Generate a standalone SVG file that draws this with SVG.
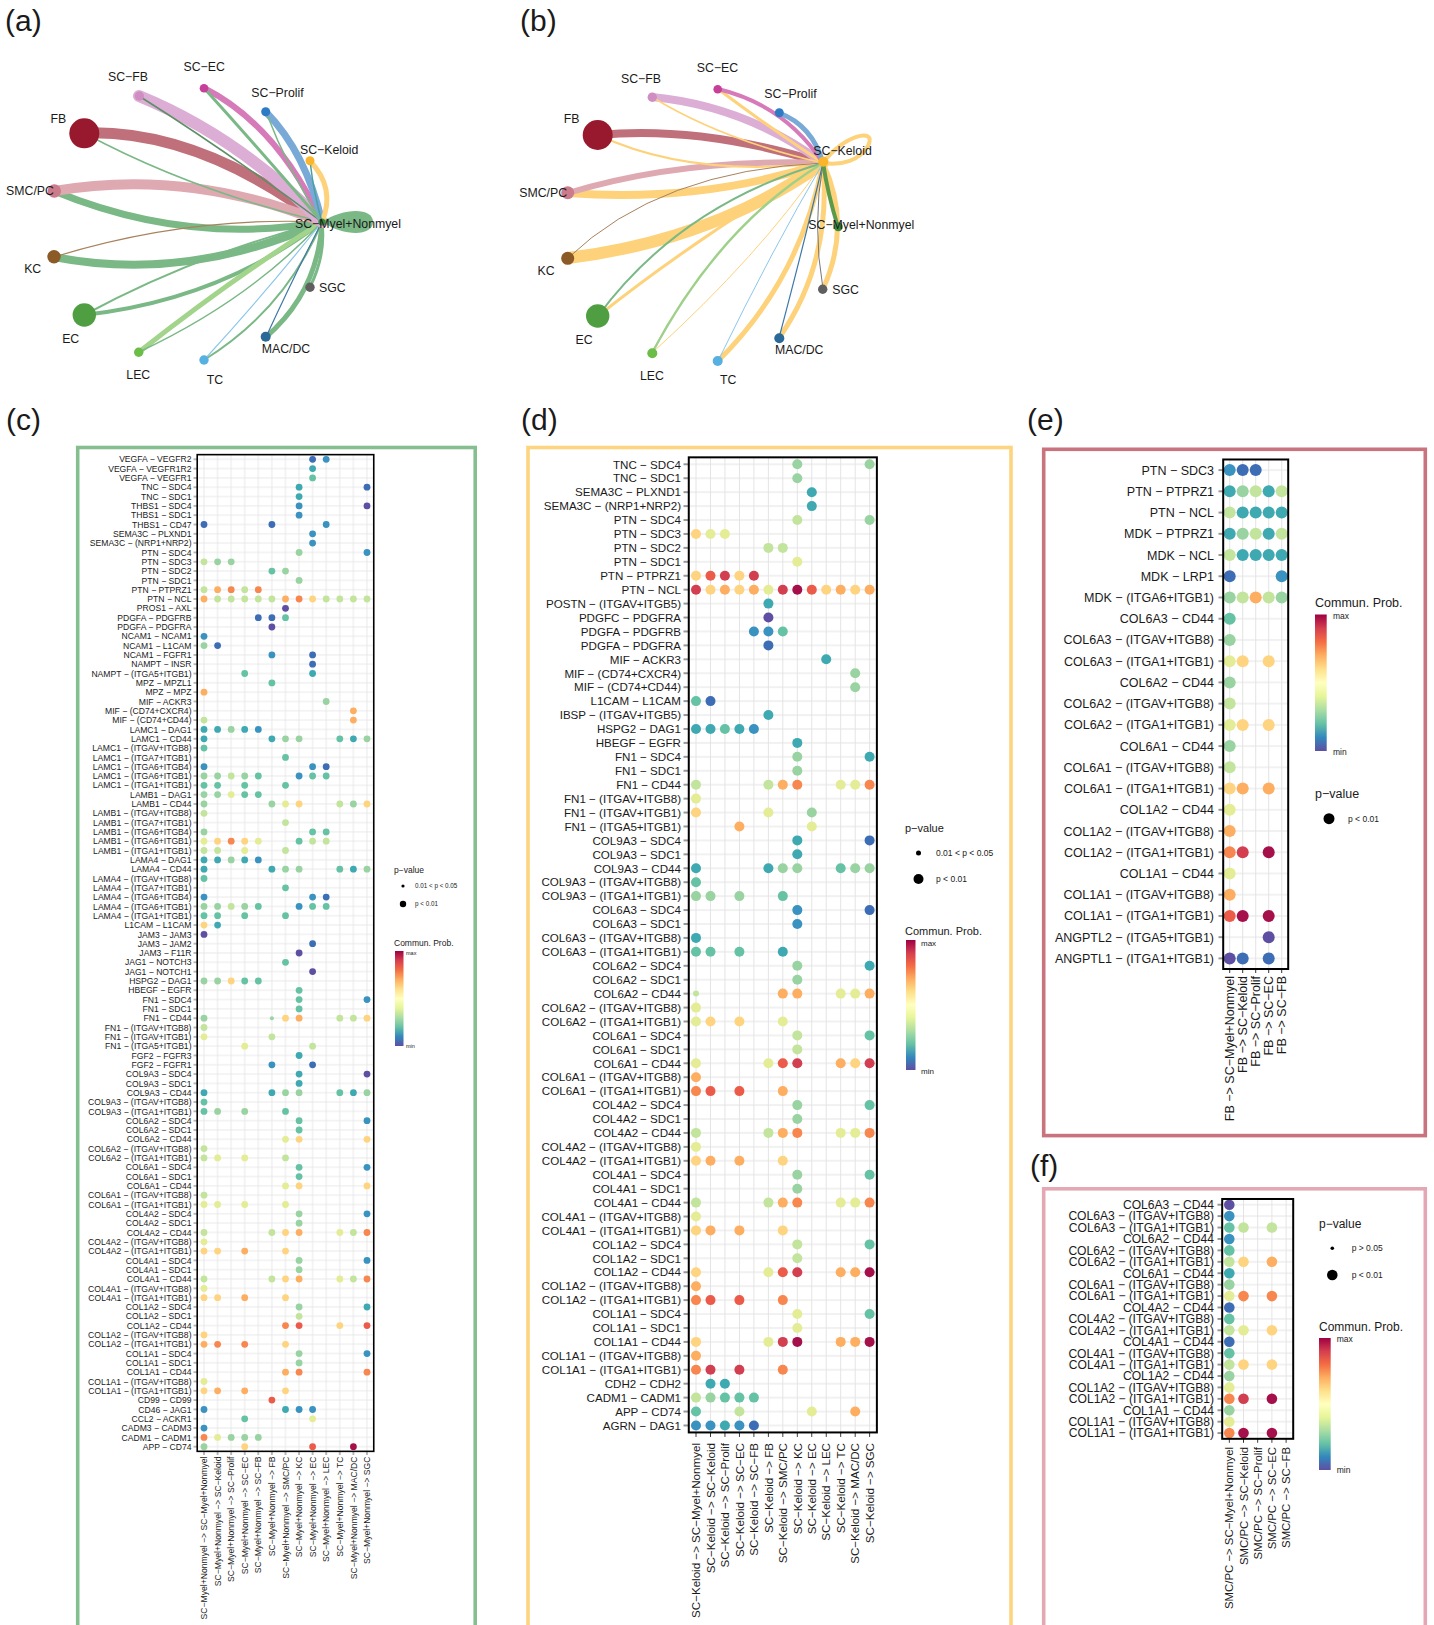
<svg xmlns="http://www.w3.org/2000/svg" width="1434" height="1625" viewBox="0 0 1434 1625">
<style>
text{font-family:"Liberation Sans",Arial,Helvetica,sans-serif;fill:#1a1a1a}
.pl{font-size:30px}
.nl{font-size:12.3px}
.lc{font-size:8.6px;text-anchor:end}
.ld{font-size:11.6px;text-anchor:end}
.le{font-size:12.5px;text-anchor:end}
.lf{font-size:12.1px;text-anchor:end}
.lfx{font-size:11.4px;text-anchor:end}
.dc circle{r:3.4px}.dd circle{r:5px}.de circle{r:6px}.df circle{r:5.3px}
.dc circle.s{r:2px}.dd circle.s{r:3px}
.P{fill:#5e4fa2}.B{fill:#3d6db5}.b{fill:#3a92c0}.T{fill:#3fa9b2}.G{fill:#66c2a5}.g{fill:#99d3a1}.L{fill:#c3e49d}.Y{fill:#e5ec96}.y{fill:#fed480}.O{fill:#fdae61}.o{fill:#f7864f}.R{fill:#ec5b49}.r{fill:#d13f50}.D{fill:#a6104a}
.e{fill:none;stroke-linecap:round}
.box{fill:none;stroke:#000}
.leg{font-size:8.5px}
</style>
<defs>
<linearGradient id="spec" x1="0" y1="0" x2="0" y2="1">
<stop offset="0" stop-color="#9e0142"/><stop offset=".1" stop-color="#d53e4f"/><stop offset=".2" stop-color="#f46d43"/><stop offset=".3" stop-color="#fdae61"/><stop offset=".4" stop-color="#fee08b"/><stop offset=".5" stop-color="#ffffbf"/><stop offset=".6" stop-color="#e6f598"/><stop offset=".7" stop-color="#abdda4"/><stop offset=".8" stop-color="#66c2a5"/><stop offset=".9" stop-color="#3288bd"/><stop offset="1" stop-color="#5e4fa2"/>
</linearGradient>
<pattern id="gc" patternUnits="userSpaceOnUse" x="197.21" y="454.64" width="13.58" height="9.315"><path d="M6.79 0V9.315M0 4.6575H13.58" stroke="#e3e3e3" stroke-width=".8"/></pattern>
<pattern id="tcl" patternUnits="userSpaceOnUse" x="193.5" y="454.64" width="4" height="9.315"><path d="M0 4.6575H4" stroke="#333" stroke-width=".7"/></pattern>
<pattern id="tcb" patternUnits="userSpaceOnUse" x="197.21" y="1451.3" width="13.58" height="4"><path d="M6.79 0V4" stroke="#333" stroke-width=".7"/></pattern>
<pattern id="gd" patternUnits="userSpaceOnUse" x="688.77" y="457.34" width="14.47" height="13.93"><path d="M7.235 0V13.93M0 6.965H14.47" stroke="#e3e3e3" stroke-width="1"/></pattern>
<pattern id="tdl" patternUnits="userSpaceOnUse" x="683.5" y="457.34" width="6" height="13.93"><path d="M0 6.965H6" stroke="#333" stroke-width="1"/></pattern>
<pattern id="tdb" patternUnits="userSpaceOnUse" x="688.77" y="1432.44" width="14.47" height="5"><path d="M7.235 0V5" stroke="#333" stroke-width="1"/></pattern>
<pattern id="ge" patternUnits="userSpaceOnUse" x="1223.2" y="459.49" width="13" height="21.23"><path d="M6.5 0V21.23M0 10.615H13" stroke="#e3e3e3" stroke-width="1"/></pattern>
<pattern id="tel" patternUnits="userSpaceOnUse" x="1218.5" y="459.49" width="5" height="21.23"><path d="M0 10.615H5" stroke="#333" stroke-width="1"/></pattern>
<pattern id="teb" patternUnits="userSpaceOnUse" x="1223.2" y="969" width="13" height="5"><path d="M6.5 0V5" stroke="#333" stroke-width="1"/></pattern>
<pattern id="gf" patternUnits="userSpaceOnUse" x="1222.2" y="1198.99" width="14.2" height="11.42"><path d="M7.1 0V11.42M0 5.71H14.2" stroke="#e3e3e3" stroke-width="1"/></pattern>
<pattern id="tfl" patternUnits="userSpaceOnUse" x="1217.5" y="1198.99" width="5" height="11.42"><path d="M0 5.71H5" stroke="#333" stroke-width="1"/></pattern>
<pattern id="tfb" patternUnits="userSpaceOnUse" x="1222.2" y="1438.8" width="14.2" height="5"><path d="M7.1 0V5" stroke="#333" stroke-width="1"/></pattern>
</defs>
<rect width="1434" height="1625" fill="#fff"/>

<g id="panel-labels" class="pl">
<text x="5" y="31">(a)</text><text x="520" y="31">(b)</text><text x="6" y="430">(c)</text><text x="521" y="430">(d)</text><text x="1027" y="430">(e)</text><text x="1030" y="1176">(f)</text>
</g>

<!-- Panel (a) -->
<g id="panel-a">
<g id="a-connectors" class="e">
<path d="M54,191 Q187,246 322,222" stroke="#7ab886" stroke-width="7"/>
<path d="M54,257 Q187,283 322,222" stroke="#7ab886" stroke-width="8"/>
<path d="M84,315 Q220,300 322,222" stroke="#7ab886" stroke-width="4"/>
<path d="M84,315 Q195,255 322,222" stroke="#7ab886" stroke-width="2"/>
<path d="M139,352 Q230,280 322,222" stroke="#a3d48b" stroke-width="5"/>
<path d="M139,352 Q250,300 322,222" stroke="#7ab886" stroke-width="1.5"/>
<path d="M204,360 Q285,310 322,222" stroke="#7ab886" stroke-width="2"/>
<path d="M204,360 Q268,290 322,222" stroke="#8cc6ea" stroke-width="1.2"/>
<path d="M266,337 Q318,292 322,222" stroke="#7ab886" stroke-width="5"/>
<path d="M266,337 Q296,272 322,222" stroke="#3f78a8" stroke-width="1.2"/>
<path d="M310,287 Q326,255 322,222" stroke="#7ab886" stroke-width="3"/>
<path d="M54,257 Q187,216 322,222" stroke="#a9825c" stroke-width="1.2"/>
<path d="M84,133 Q198,129 322,222" stroke="#c0707a" stroke-width="11"/>
<path d="M54,191 Q187,168 322,222" stroke="#dfa9b2" stroke-width="10"/>
<path d="M84,133 Q190,190 322,222" stroke="#7ab886" stroke-width="1.5"/>
<path d="M139,96 Q239,137 322,222" stroke="#dcaed6" stroke-width="12"/>
<path d="M139,96 Q225,150 322,222" stroke="#5c8f66" stroke-width="1.5"/>
<path d="M204,88 Q277,125 322,222" stroke="#d67ab9" stroke-width="6"/>
<path d="M204,88 Q260,150 322,222" stroke="#7ab886" stroke-width="3"/>
<path d="M266,112 Q306,153 322,222" stroke="#79a9d6" stroke-width="7"/>
<path d="M266,112 Q288,170 322,222" stroke="#7ab886" stroke-width="1.5"/>
<path d="M310,161 Q336,188 322,222" stroke="#fdd27a" stroke-width="5"/>
<path d="M310,161 Q314,195 322,222" stroke="#4aa0a0" stroke-width="1.5"/>
<path d="M322,222 C345,207 373,208 373,222 C373,236 345,237 322,222Z" fill="#7ab886" stroke="none"/>
</g>
<g id="a-SC-FB"><circle cx="139.3" cy="96" r="4.7" fill="#cf8dc2"/><text class="nl" x="128" y="81.1" text-anchor="middle">SC−FB</text></g>
<g id="a-SC-EC"><circle cx="204" cy="88.3" r="4.3" fill="#c73f98"/><text class="nl" x="204.2" y="71.1" text-anchor="middle">SC−EC</text></g>
<g id="a-SC-Prolif"><circle cx="265.7" cy="111.7" r="4.5" fill="#2c7bc4"/><text class="nl" x="277.5" y="97.1" text-anchor="middle">SC−Prolif</text></g>
<g id="a-FB"><circle cx="84.3" cy="133.3" r="15" fill="#98192d"/><text class="nl" x="58.3" y="123.1" text-anchor="middle">FB</text></g>
<g id="a-SC-Keloid"><circle cx="310" cy="160.7" r="4.5" fill="#fbb52c"/><text class="nl" x="329.2" y="154.1" text-anchor="middle">SC−Keloid</text></g>
<g id="a-SMC-PC"><circle cx="54.3" cy="191" r="6.7" fill="#cc7b8b"/><text class="nl" x="30" y="195.4" text-anchor="middle">SMC/PC</text></g>
<g id="a-SC-Myel"><circle cx="322" cy="222" r="3.5" fill="#3b8a3b"/><text class="nl" x="295" y="227.7">SC−Myel+Nonmyel</text></g>
<g id="a-KC"><circle cx="54" cy="256.7" r="6.7" fill="#8c5a26"/><text class="nl" x="32.7" y="272.7" text-anchor="middle">KC</text></g>
<g id="a-SGC"><circle cx="310" cy="287.3" r="4.7" fill="#5f5f5f"/><text class="nl" x="319" y="291.7">SGC</text></g>
<g id="a-EC"><circle cx="84.3" cy="315" r="11.7" fill="#4f9f42"/><text class="nl" x="70.7" y="343.4" text-anchor="middle">EC</text></g>
<g id="a-MAC-DC"><circle cx="265.7" cy="336.7" r="5" fill="#2a6898"/><text class="nl" x="261.7" y="353.4">MAC/DC</text></g>
<g id="a-LEC"><circle cx="138.7" cy="352.3" r="4.7" fill="#6cbd48"/><text class="nl" x="138.3" y="378.5" text-anchor="middle">LEC</text></g>
<g id="a-TC"><circle cx="204" cy="360" r="4.7" fill="#56b0e2"/><text class="nl" x="215" y="383.5" text-anchor="middle">TC</text></g>
</g>

<!-- Panel (b) -->
<g id="panel-b">
<g id="b-connectors" class="e">
<path d="M568,258 Q714,240 823,163" stroke="#fdd27a" stroke-width="12"/>
<path d="M568,193 Q704,203 823,163" stroke="#fdd27a" stroke-width="8"/>
<path d="M598,135 Q700,125 823,163" stroke="#c0707a" stroke-width="8"/>
<path d="M568,193 Q684,158 823,163" stroke="#dfa9b2" stroke-width="6"/>
<path d="M598,135 Q690,178 823,163" stroke="#fdd27a" stroke-width="2"/>
<path d="M652,97 Q746,106 823,163" stroke="#dcaed6" stroke-width="8"/>
<path d="M652,97 Q722,140 823,163" stroke="#fdd27a" stroke-width="1.5"/>
<path d="M718,89 Q770,128 823,163" stroke="#fdd27a" stroke-width="3"/>
<path d="M718,89 Q785,105 823,163" stroke="#d67ab9" stroke-width="4"/>
<path d="M779,113 Q812,125 823,163" stroke="#79a9d6" stroke-width="5"/>
<path d="M568,258 Q660,170 823,163" stroke="#a9825c" stroke-width="1"/>
<path d="M598,316 Q700,235 823,163" stroke="#fdd27a" stroke-width="3"/>
<path d="M598,316 Q680,205 823,163" stroke="#7ab886" stroke-width="2"/>
<path d="M652,353 Q760,255 823,163" stroke="#fdd27a" stroke-width="1"/>
<path d="M652,353 Q720,225 823,163" stroke="#9fd08a" stroke-width="2.5"/>
<path d="M718,361 Q800,280 823,163" stroke="#fdd27a" stroke-width="5"/>
<path d="M718,361 Q772,250 823,163" stroke="#8cc6ea" stroke-width="1"/>
<path d="M779,338 Q832,262 823,163" stroke="#fdd27a" stroke-width="5"/>
<path d="M779,338 Q805,240 823,163" stroke="#3f78a8" stroke-width="1.2"/>
<path d="M823,289 Q852,225 823,163" stroke="#fdd27a" stroke-width="5"/>
<path d="M823,289 Q812,225 823,163" stroke="#777" stroke-width="1"/>
<path d="M838,227 Q832,190 823,163" stroke="#fdd27a" stroke-width="4"/>
<path d="M838,227 Q828,195 823,163" stroke="#5b9a4a" stroke-width="4"/>
<path d="M823,163 C842,136 878,126 868,146 C860,160 842,166 823,163" stroke="#fdd27a" stroke-width="4"/>
</g>
<g id="b-SC-FB"><circle cx="652.3" cy="97.3" r="4.7" fill="#cf8dc2"/><text class="nl" x="641" y="83.4" text-anchor="middle">SC−FB</text></g>
<g id="b-SC-EC"><circle cx="717.7" cy="89.3" r="4.3" fill="#c73f98"/><text class="nl" x="717.5" y="72.1" text-anchor="middle">SC−EC</text></g>
<g id="b-SC-Prolif"><circle cx="779.3" cy="112.7" r="4.5" fill="#2c7bc4"/><text class="nl" x="764.3" y="98.1">SC−Prolif</text></g>
<g id="b-FB"><circle cx="597.7" cy="135" r="15" fill="#98192d"/><text class="nl" x="571.7" y="123.1" text-anchor="middle">FB</text></g>
<g id="b-SC-Keloid"><circle cx="823.3" cy="161.7" r="5" fill="#fbb52c"/><text class="nl" x="813.3" y="155.1">SC−Keloid</text></g>
<g id="b-SMC-PC"><circle cx="567.7" cy="192.7" r="6.5" fill="#cc7b8b"/><text class="nl" x="519.3" y="197.1">SMC/PC</text></g>
<g id="b-SC-Myel"><circle cx="838.3" cy="226.7" r="4.5" fill="#3b8a3b"/><text class="nl" x="808.3" y="229.4">SC−Myel+Nonmyel</text></g>
<g id="b-KC"><circle cx="567.7" cy="258.3" r="6.5" fill="#8c5a26"/><text class="nl" x="546" y="275.1" text-anchor="middle">KC</text></g>
<g id="b-SGC"><circle cx="822.7" cy="289.3" r="4.7" fill="#5f5f5f"/><text class="nl" x="832.3" y="293.7">SGC</text></g>
<g id="b-EC"><circle cx="597.7" cy="316" r="11.7" fill="#4f9f42"/><text class="nl" x="584" y="344.4" text-anchor="middle">EC</text></g>
<g id="b-MAC-DC"><circle cx="779.3" cy="338.3" r="5" fill="#2a6898"/><text class="nl" x="775" y="353.7">MAC/DC</text></g>
<g id="b-LEC"><circle cx="652.3" cy="353.3" r="5" fill="#6cbd48"/><text class="nl" x="652" y="379.5" text-anchor="middle">LEC</text></g>
<g id="b-TC"><circle cx="717.7" cy="361" r="5" fill="#56b0e2"/><text class="nl" x="728.3" y="384" text-anchor="middle">TC</text></g>
</g>

<!-- Panel borders -->
<rect x="77.7" y="447.5" width="397.5" height="1200" fill="none" stroke="#86bf8f" stroke-width="3.6"/>
<rect x="528" y="447.5" width="483" height="1200" fill="none" stroke="#fdd47f" stroke-width="3.6"/>
<rect x="1043.7" y="449.3" width="381.6" height="686.3" fill="none" stroke="#c8737d" stroke-width="3.6"/>
<rect x="1043.7" y="1188.8" width="381.6" height="460" fill="none" stroke="#e3a8b4" stroke-width="3.6"/>

<!-- Panel (c) -->
<g id="panel-c">
<rect x="197.21" y="454.64" width="176.54" height="996.7" fill="url(#gc)"/>
<rect x="193.5" y="454.64" width="3.7" height="996.7" fill="url(#tcl)"/>
<rect x="197.21" y="1451.3" width="176.54" height="3.7" fill="url(#tcb)"/>
<g class="dc">
<g transform="translate(0,459.3)"><circle cx="312.6" class="B"/><circle cx="326.2" class="b"/></g>
<g transform="translate(0,468.6)"><circle cx="312.6" class="T"/></g>
<g transform="translate(0,477.9)"><circle cx="312.6" class="G"/></g>
<g transform="translate(0,487.2)"><circle cx="299.1" class="T"/><circle cx="367" class="B"/></g>
<g transform="translate(0,496.6)"><circle cx="299.1" class="T"/></g>
<g transform="translate(0,505.9)"><circle cx="299.1" class="b"/><circle cx="367" class="P"/></g>
<g transform="translate(0,515.2)"><circle cx="299.1" class="b"/></g>
<g transform="translate(0,524.5)"><circle cx="204" class="B"/><circle cx="271.9" class="B"/><circle cx="326.2" class="b"/></g>
<g transform="translate(0,533.8)"><circle cx="312.6" class="b"/></g>
<g transform="translate(0,543.1)"><circle cx="312.6" class="b"/></g>
<g transform="translate(0,552.5)"><circle cx="299.1" class="g"/><circle cx="367" class="b"/></g>
<g transform="translate(0,561.8)"><circle cx="204" class="L"/><circle cx="217.6" class="g"/><circle cx="231.2" class="g"/></g>
<g transform="translate(0,571.1)"><circle cx="271.9" class="G"/><circle cx="285.5" class="g"/></g>
<g transform="translate(0,580.4)"><circle cx="299.1" class="g"/></g>
<g transform="translate(0,589.7)"><circle cx="204" class="L"/><circle cx="217.6" class="O"/><circle cx="231.2" class="o"/><circle cx="244.7" class="L"/><circle cx="258.3" class="o"/></g>
<g transform="translate(0,599)"><circle cx="204" class="O"/><circle cx="217.6" class="L"/><circle cx="231.2" class="L"/><circle cx="244.7" class="L"/><circle cx="258.3" class="L"/><circle cx="271.9" class="L"/><circle cx="285.5" class="O"/><circle cx="299.1" class="o"/><circle cx="312.6" class="y"/><circle cx="326.2" class="L"/><circle cx="339.8" class="L"/><circle cx="353.4" class="L"/><circle cx="367" class="L"/></g>
<g transform="translate(0,608.3)"><circle cx="285.5" class="P"/></g>
<g transform="translate(0,617.7)"><circle cx="258.3" class="B"/><circle cx="271.9" class="B"/><circle cx="285.5" class="G"/></g>
<g transform="translate(0,627)"><circle cx="271.9" class="P"/></g>
<g transform="translate(0,636.3)"><circle cx="204" class="b"/></g>
<g transform="translate(0,645.6)"><circle cx="204" class="g"/><circle cx="217.6" class="B"/></g>
<g transform="translate(0,654.9)"><circle cx="271.9" class="b"/><circle cx="312.6" class="B"/></g>
<g transform="translate(0,664.2)"><circle cx="312.6" class="B"/></g>
<g transform="translate(0,673.5)"><circle cx="244.7" class="G"/><circle cx="312.6" class="T"/></g>
<g transform="translate(0,682.9)"><circle cx="271.9" class="G"/></g>
<g transform="translate(0,692.2)"><circle cx="204" class="O"/></g>
<g transform="translate(0,701.5)"><circle cx="326.2" class="g"/></g>
<g transform="translate(0,710.8)"><circle cx="353.4" class="O"/></g>
<g transform="translate(0,720.1)"><circle cx="204" class="L"/><circle cx="353.4" class="O"/></g>
<g transform="translate(0,729.4)"><circle cx="204" class="T"/><circle cx="217.6" class="T"/><circle cx="231.2" class="g"/><circle cx="244.7" class="T"/><circle cx="258.3" class="b"/></g>
<g transform="translate(0,738.8)"><circle cx="204" class="T"/><circle cx="271.9" class="T"/><circle cx="285.5" class="g"/><circle cx="299.1" class="g"/><circle cx="339.8" class="G"/><circle cx="353.4" class="T"/><circle cx="367" class="g"/></g>
<g transform="translate(0,748.1)"><circle cx="204" class="G"/></g>
<g transform="translate(0,757.4)"><circle cx="285.5" class="G"/></g>
<g transform="translate(0,766.7)"><circle cx="204" class="b"/><circle cx="312.6" class="b"/><circle cx="326.2" class="B"/></g>
<g transform="translate(0,776)"><circle cx="204" class="g"/><circle cx="217.6" class="g"/><circle cx="231.2" class="L"/><circle cx="244.7" class="g"/><circle cx="258.3" class="G"/><circle cx="299.1" class="b"/><circle cx="312.6" class="G"/><circle cx="326.2" class="G"/></g>
<g transform="translate(0,785.3)"><circle cx="204" class="G"/><circle cx="217.6" class="G"/><circle cx="244.7" class="G"/><circle cx="285.5" class="G"/></g>
<g transform="translate(0,794.6)"><circle cx="204" class="g"/><circle cx="217.6" class="g"/><circle cx="231.2" class="Y"/><circle cx="244.7" class="G"/><circle cx="258.3" class="G"/></g>
<g transform="translate(0,804)"><circle cx="204" class="g"/><circle cx="271.9" class="g"/><circle cx="285.5" class="Y"/><circle cx="299.1" class="y"/><circle cx="339.8" class="L"/><circle cx="353.4" class="g"/><circle cx="367" class="y"/></g>
<g transform="translate(0,813.3)"><circle cx="204" class="L"/></g>
<g transform="translate(0,822.6)"><circle cx="285.5" class="L"/></g>
<g transform="translate(0,831.9)"><circle cx="204" class="g"/><circle cx="312.6" class="G"/><circle cx="326.2" class="G"/></g>
<g transform="translate(0,841.2)"><circle cx="204" class="Y"/><circle cx="217.6" class="y"/><circle cx="231.2" class="o"/><circle cx="244.7" class="y"/><circle cx="258.3" class="Y"/><circle cx="299.1" class="G"/><circle cx="312.6" class="L"/><circle cx="326.2" class="L"/></g>
<g transform="translate(0,850.5)"><circle cx="204" class="L"/><circle cx="217.6" class="L"/><circle cx="244.7" class="Y"/><circle cx="285.5" class="L"/></g>
<g transform="translate(0,859.9)"><circle cx="204" class="T"/><circle cx="217.6" class="T"/><circle cx="231.2" class="g"/><circle cx="244.7" class="T"/><circle cx="258.3" class="b"/></g>
<g transform="translate(0,869.2)"><circle cx="204" class="T"/><circle cx="271.9" class="T"/><circle cx="285.5" class="g"/><circle cx="299.1" class="g"/><circle cx="339.8" class="G"/><circle cx="353.4" class="T"/><circle cx="367" class="g"/></g>
<g transform="translate(0,878.5)"><circle cx="204" class="G"/></g>
<g transform="translate(0,887.8)"><circle cx="285.5" class="G"/></g>
<g transform="translate(0,897.1)"><circle cx="204" class="b"/><circle cx="312.6" class="b"/><circle cx="326.2" class="B"/></g>
<g transform="translate(0,906.4)"><circle cx="204" class="g"/><circle cx="217.6" class="g"/><circle cx="231.2" class="L"/><circle cx="244.7" class="g"/><circle cx="258.3" class="G"/><circle cx="299.1" class="b"/><circle cx="312.6" class="G"/><circle cx="326.2" class="G"/></g>
<g transform="translate(0,915.7)"><circle cx="204" class="G"/><circle cx="217.6" class="G"/><circle cx="244.7" class="G"/><circle cx="285.5" class="G"/></g>
<g transform="translate(0,925.1)"><circle cx="204" class="y"/><circle cx="217.6" class="T"/></g>
<g transform="translate(0,934.4)"><circle cx="204" class="P"/></g>
<g transform="translate(0,943.7)"><circle cx="312.6" class="B"/></g>
<g transform="translate(0,953)"><circle cx="299.1" class="P"/></g>
<g transform="translate(0,962.3)"><circle cx="285.5" class="G"/></g>
<g transform="translate(0,971.6)"><circle cx="312.6" class="P"/></g>
<g transform="translate(0,981)"><circle cx="204" class="g"/><circle cx="217.6" class="g"/><circle cx="231.2" class="y"/><circle cx="244.7" class="G"/><circle cx="258.3" class="G"/></g>
<g transform="translate(0,990.3)"><circle cx="299.1" class="G"/></g>
<g transform="translate(0,999.6)"><circle cx="299.1" class="G"/><circle cx="367" class="b"/></g>
<g transform="translate(0,1008.9)"><circle cx="299.1" class="G"/></g>
<g transform="translate(0,1018.2)"><circle cx="204" class="g"/><circle cx="271.9" class="g s"/><circle cx="285.5" class="y"/><circle cx="299.1" class="O"/><circle cx="339.8" class="L"/><circle cx="353.4" class="L"/><circle cx="367" class="y"/></g>
<g transform="translate(0,1027.5)"><circle cx="204" class="L"/></g>
<g transform="translate(0,1036.8)"><circle cx="204" class="Y"/><circle cx="271.9" class="L"/></g>
<g transform="translate(0,1046.2)"><circle cx="244.7" class="Y"/><circle cx="312.6" class="L"/></g>
<g transform="translate(0,1055.5)"><circle cx="299.1" class="T"/></g>
<g transform="translate(0,1064.8)"><circle cx="271.9" class="b"/><circle cx="312.6" class="B"/></g>
<g transform="translate(0,1074.1)"><circle cx="299.1" class="T"/><circle cx="367" class="P"/></g>
<g transform="translate(0,1083.4)"><circle cx="299.1" class="T"/></g>
<g transform="translate(0,1092.7)"><circle cx="204" class="T"/><circle cx="271.9" class="T"/><circle cx="285.5" class="g"/><circle cx="299.1" class="g"/><circle cx="339.8" class="G"/><circle cx="353.4" class="T"/><circle cx="367" class="g"/></g>
<g transform="translate(0,1102.1)"><circle cx="204" class="G"/></g>
<g transform="translate(0,1111.4)"><circle cx="204" class="G"/><circle cx="217.6" class="g"/><circle cx="244.7" class="g"/><circle cx="285.5" class="G"/></g>
<g transform="translate(0,1120.7)"><circle cx="299.1" class="G"/><circle cx="367" class="b"/></g>
<g transform="translate(0,1130)"><circle cx="299.1" class="G"/></g>
<g transform="translate(0,1139.3)"><circle cx="285.5" class="Y"/><circle cx="299.1" class="y"/><circle cx="367" class="y"/></g>
<g transform="translate(0,1148.6)"><circle cx="204" class="L"/></g>
<g transform="translate(0,1157.9)"><circle cx="204" class="L"/><circle cx="217.6" class="Y"/><circle cx="244.7" class="Y"/><circle cx="285.5" class="L"/></g>
<g transform="translate(0,1167.3)"><circle cx="299.1" class="G"/><circle cx="367" class="b"/></g>
<g transform="translate(0,1176.6)"><circle cx="299.1" class="G"/></g>
<g transform="translate(0,1185.9)"><circle cx="285.5" class="Y"/><circle cx="299.1" class="y"/><circle cx="367" class="y"/></g>
<g transform="translate(0,1195.2)"><circle cx="204" class="L"/></g>
<g transform="translate(0,1204.5)"><circle cx="204" class="Y"/><circle cx="217.6" class="Y"/><circle cx="244.7" class="Y"/><circle cx="285.5" class="Y"/></g>
<g transform="translate(0,1213.8)"><circle cx="299.1" class="g"/><circle cx="367" class="b"/></g>
<g transform="translate(0,1223.2)"><circle cx="299.1" class="g"/></g>
<g transform="translate(0,1232.5)"><circle cx="204" class="L"/><circle cx="271.9" class="L"/><circle cx="285.5" class="y"/><circle cx="299.1" class="O"/><circle cx="339.8" class="Y"/><circle cx="353.4" class="L"/><circle cx="367" class="o"/></g>
<g transform="translate(0,1241.8)"><circle cx="204" class="Y"/></g>
<g transform="translate(0,1251.1)"><circle cx="204" class="y"/><circle cx="217.6" class="y"/><circle cx="244.7" class="O"/><circle cx="285.5" class="y"/></g>
<g transform="translate(0,1260.4)"><circle cx="299.1" class="g"/><circle cx="367" class="b"/></g>
<g transform="translate(0,1269.7)"><circle cx="299.1" class="g"/></g>
<g transform="translate(0,1279)"><circle cx="204" class="L"/><circle cx="271.9" class="L"/><circle cx="285.5" class="y"/><circle cx="299.1" class="O"/><circle cx="339.8" class="Y"/><circle cx="353.4" class="L"/><circle cx="367" class="o"/></g>
<g transform="translate(0,1288.4)"><circle cx="204" class="Y"/></g>
<g transform="translate(0,1297.7)"><circle cx="204" class="y"/><circle cx="217.6" class="y"/><circle cx="244.7" class="O"/><circle cx="285.5" class="y"/></g>
<g transform="translate(0,1307)"><circle cx="299.1" class="g"/><circle cx="367" class="T"/></g>
<g transform="translate(0,1316.3)"><circle cx="299.1" class="L"/></g>
<g transform="translate(0,1325.6)"><circle cx="285.5" class="o"/><circle cx="299.1" class="R"/><circle cx="339.8" class="y"/><circle cx="367" class="R"/></g>
<g transform="translate(0,1334.9)"><circle cx="204" class="y"/></g>
<g transform="translate(0,1344.3)"><circle cx="204" class="O"/><circle cx="217.6" class="o"/><circle cx="244.7" class="o"/><circle cx="285.5" class="y"/></g>
<g transform="translate(0,1353.6)"><circle cx="299.1" class="g"/><circle cx="367" class="b"/></g>
<g transform="translate(0,1362.9)"><circle cx="299.1" class="g"/></g>
<g transform="translate(0,1372.2)"><circle cx="285.5" class="O"/><circle cx="299.1" class="o"/><circle cx="367" class="o"/></g>
<g transform="translate(0,1381.5)"><circle cx="204" class="Y"/></g>
<g transform="translate(0,1390.8)"><circle cx="204" class="y"/><circle cx="217.6" class="O"/><circle cx="244.7" class="O"/><circle cx="285.5" class="y"/></g>
<g transform="translate(0,1400.1)"><circle cx="271.9" class="R"/></g>
<g transform="translate(0,1409.5)"><circle cx="204" class="b"/><circle cx="285.5" class="T"/><circle cx="299.1" class="b"/><circle cx="312.6" class="b"/></g>
<g transform="translate(0,1418.8)"><circle cx="244.7" class="G"/><circle cx="312.6" class="Y"/></g>
<g transform="translate(0,1428.1)"><circle cx="204" class="b"/></g>
<g transform="translate(0,1437.4)"><circle cx="204" class="o"/><circle cx="217.6" class="Y"/><circle cx="231.2" class="g"/><circle cx="244.7" class="g"/><circle cx="258.3" class="g"/></g>
<g transform="translate(0,1446.7)"><circle cx="204" class="g"/><circle cx="244.7" class="y"/><circle cx="312.6" class="R"/><circle cx="353.4" class="D"/></g>
</g>
<rect class="box" x="197.21" y="454.64" width="176.54" height="996.7" stroke-width="1.6"/>
<g class="lc">
<text x="191.5" y="462.4">VEGFA − VEGFR2</text><text x="191.5" y="471.7">VEGFA − VEGFR1R2</text><text x="191.5" y="481">VEGFA − VEGFR1</text><text x="191.5" y="490.3">TNC − SDC4</text><text x="191.5" y="499.7">TNC − SDC1</text><text x="191.5" y="509">THBS1 − SDC4</text><text x="191.5" y="518.3">THBS1 − SDC1</text><text x="191.5" y="527.6">THBS1 − CD47</text><text x="191.5" y="536.9">SEMA3C − PLXND1</text><text x="191.5" y="546.2">SEMA3C − (NRP1+NRP2)</text>
<text x="191.5" y="555.6">PTN − SDC4</text><text x="191.5" y="564.9">PTN − SDC3</text><text x="191.5" y="574.2">PTN − SDC2</text><text x="191.5" y="583.5">PTN − SDC1</text><text x="191.5" y="592.8">PTN − PTPRZ1</text><text x="191.5" y="602.1">PTN − NCL</text><text x="191.5" y="611.4">PROS1 − AXL</text><text x="191.5" y="620.8">PDGFA − PDGFRB</text><text x="191.5" y="630.1">PDGFA − PDGFRA</text><text x="191.5" y="639.4">NCAM1 − NCAM1</text>
<text x="191.5" y="648.7">NCAM1 − L1CAM</text><text x="191.5" y="658">NCAM1 − FGFR1</text><text x="191.5" y="667.3">NAMPT − INSR</text><text x="191.5" y="676.6">NAMPT − (ITGA5+ITGB1)</text><text x="191.5" y="686">MPZ − MPZL1</text><text x="191.5" y="695.3">MPZ − MPZ</text><text x="191.5" y="704.6">MIF − ACKR3</text><text x="191.5" y="713.9">MIF − (CD74+CXCR4)</text><text x="191.5" y="723.2">MIF − (CD74+CD44)</text><text x="191.5" y="732.5">LAMC1 − DAG1</text>
<text x="191.5" y="741.9">LAMC1 − CD44</text><text x="191.5" y="751.2">LAMC1 − (ITGAV+ITGB8)</text><text x="191.5" y="760.5">LAMC1 − (ITGA7+ITGB1)</text><text x="191.5" y="769.8">LAMC1 − (ITGA6+ITGB4)</text><text x="191.5" y="779.1">LAMC1 − (ITGA6+ITGB1)</text><text x="191.5" y="788.4">LAMC1 − (ITGA1+ITGB1)</text><text x="191.5" y="797.7">LAMB1 − DAG1</text><text x="191.5" y="807.1">LAMB1 − CD44</text><text x="191.5" y="816.4">LAMB1 − (ITGAV+ITGB8)</text><text x="191.5" y="825.7">LAMB1 − (ITGA7+ITGB1)</text>
<text x="191.5" y="835">LAMB1 − (ITGA6+ITGB4)</text><text x="191.5" y="844.3">LAMB1 − (ITGA6+ITGB1)</text><text x="191.5" y="853.6">LAMB1 − (ITGA1+ITGB1)</text><text x="191.5" y="863">LAMA4 − DAG1</text><text x="191.5" y="872.3">LAMA4 − CD44</text><text x="191.5" y="881.6">LAMA4 − (ITGAV+ITGB8)</text><text x="191.5" y="890.9">LAMA4 − (ITGA7+ITGB1)</text><text x="191.5" y="900.2">LAMA4 − (ITGA6+ITGB4)</text><text x="191.5" y="909.5">LAMA4 − (ITGA6+ITGB1)</text><text x="191.5" y="918.8">LAMA4 − (ITGA1+ITGB1)</text>
<text x="191.5" y="928.2">L1CAM − L1CAM</text><text x="191.5" y="937.5">JAM3 − JAM3</text><text x="191.5" y="946.8">JAM3 − JAM2</text><text x="191.5" y="956.1">JAM3 − F11R</text><text x="191.5" y="965.4">JAG1 − NOTCH3</text><text x="191.5" y="974.7">JAG1 − NOTCH1</text><text x="191.5" y="984.1">HSPG2 − DAG1</text><text x="191.5" y="993.4">HBEGF − EGFR</text><text x="191.5" y="1002.7">FN1 − SDC4</text><text x="191.5" y="1012">FN1 − SDC1</text>
<text x="191.5" y="1021.3">FN1 − CD44</text><text x="191.5" y="1030.6">FN1 − (ITGAV+ITGB8)</text><text x="191.5" y="1039.9">FN1 − (ITGAV+ITGB1)</text><text x="191.5" y="1049.3">FN1 − (ITGA5+ITGB1)</text><text x="191.5" y="1058.6">FGF2 − FGFR3</text><text x="191.5" y="1067.9">FGF2 − FGFR1</text><text x="191.5" y="1077.2">COL9A3 − SDC4</text><text x="191.5" y="1086.5">COL9A3 − SDC1</text><text x="191.5" y="1095.8">COL9A3 − CD44</text><text x="191.5" y="1105.2">COL9A3 − (ITGAV+ITGB8)</text>
<text x="191.5" y="1114.5">COL9A3 − (ITGA1+ITGB1)</text><text x="191.5" y="1123.8">COL6A2 − SDC4</text><text x="191.5" y="1133.1">COL6A2 − SDC1</text><text x="191.5" y="1142.4">COL6A2 − CD44</text><text x="191.5" y="1151.7">COL6A2 − (ITGAV+ITGB8)</text><text x="191.5" y="1161">COL6A2 − (ITGA1+ITGB1)</text><text x="191.5" y="1170.4">COL6A1 − SDC4</text><text x="191.5" y="1179.7">COL6A1 − SDC1</text><text x="191.5" y="1189">COL6A1 − CD44</text><text x="191.5" y="1198.3">COL6A1 − (ITGAV+ITGB8)</text>
<text x="191.5" y="1207.6">COL6A1 − (ITGA1+ITGB1)</text><text x="191.5" y="1216.9">COL4A2 − SDC4</text><text x="191.5" y="1226.3">COL4A2 − SDC1</text><text x="191.5" y="1235.6">COL4A2 − CD44</text><text x="191.5" y="1244.9">COL4A2 − (ITGAV+ITGB8)</text><text x="191.5" y="1254.2">COL4A2 − (ITGA1+ITGB1)</text><text x="191.5" y="1263.5">COL4A1 − SDC4</text><text x="191.5" y="1272.8">COL4A1 − SDC1</text><text x="191.5" y="1282.1">COL4A1 − CD44</text><text x="191.5" y="1291.5">COL4A1 − (ITGAV+ITGB8)</text>
<text x="191.5" y="1300.8">COL4A1 − (ITGA1+ITGB1)</text><text x="191.5" y="1310.1">COL1A2 − SDC4</text><text x="191.5" y="1319.4">COL1A2 − SDC1</text><text x="191.5" y="1328.7">COL1A2 − CD44</text><text x="191.5" y="1338">COL1A2 − (ITGAV+ITGB8)</text><text x="191.5" y="1347.4">COL1A2 − (ITGA1+ITGB1)</text><text x="191.5" y="1356.7">COL1A1 − SDC4</text><text x="191.5" y="1366">COL1A1 − SDC1</text><text x="191.5" y="1375.3">COL1A1 − CD44</text><text x="191.5" y="1384.6">COL1A1 − (ITGAV+ITGB8)</text>
<text x="191.5" y="1393.9">COL1A1 − (ITGA1+ITGB1)</text><text x="191.5" y="1403.2">CD99 − CD99</text><text x="191.5" y="1412.6">CD46 − JAG1</text><text x="191.5" y="1421.9">CCL2 − ACKR1</text><text x="191.5" y="1431.2">CADM3 − CADM3</text><text x="191.5" y="1440.5">CADM1 − CADM1</text><text x="191.5" y="1449.8">APP − CD74</text>
<text transform="translate(207.1,1456.5) rotate(-90)">SC−Myel+Nonmyel −&gt; SC−Myel+Nonmyel</text>
<text transform="translate(220.7,1456.5) rotate(-90)">SC−Myel+Nonmyel −&gt; SC−Keloid</text>
<text transform="translate(234.3,1456.5) rotate(-90)">SC−Myel+Nonmyel −&gt; SC−Prolif</text>
<text transform="translate(247.8,1456.5) rotate(-90)">SC−Myel+Nonmyel −&gt; SC−EC</text>
<text transform="translate(261.4,1456.5) rotate(-90)">SC−Myel+Nonmyel −&gt; SC−FB</text>
<text transform="translate(275,1456.5) rotate(-90)">SC−Myel+Nonmyel −&gt; FB</text>
<text transform="translate(288.6,1456.5) rotate(-90)">SC−Myel+Nonmyel −&gt; SMC/PC</text>
<text transform="translate(302.2,1456.5) rotate(-90)">SC−Myel+Nonmyel −&gt; KC</text>
<text transform="translate(315.7,1456.5) rotate(-90)">SC−Myel+Nonmyel −&gt; EC</text>
<text transform="translate(329.3,1456.5) rotate(-90)">SC−Myel+Nonmyel −&gt; LEC</text>
<text transform="translate(342.9,1456.5) rotate(-90)">SC−Myel+Nonmyel −&gt; TC</text>
<text transform="translate(356.5,1456.5) rotate(-90)">SC−Myel+Nonmyel −&gt; MAC/DC</text>
<text transform="translate(370.1,1456.5) rotate(-90)">SC−Myel+Nonmyel −&gt; SGC</text>
</g>
<g id="c-legend">
<text x="394" y="873" font-size="8.5">p−value</text>
<circle cx="403" cy="886" r="1.6" fill="#000"/><text x="415" y="888.2" font-size="6.3">0.01 &lt; p &lt; 0.05</text>
<circle cx="403" cy="904" r="3.2" fill="#000"/><text x="415" y="906.2" font-size="6.3">p &lt; 0.01</text>
<text x="394" y="946" font-size="8.5">Commun. Prob.</text>
<rect x="395" y="951" width="8.5" height="95" fill="url(#spec)"/>
<text x="406" y="955" font-size="5.5">max</text><text x="406" y="1048" font-size="5.5">min</text>
</g>
</g>

<!-- Panel (d) -->
<g id="panel-d">
<rect x="688.77" y="457.34" width="188.11" height="975.1" fill="url(#gd)"/>
<rect x="683.5" y="457.34" width="5.27" height="975.1" fill="url(#tdl)"/>
<rect x="688.77" y="1432.44" width="188.11" height="4.5" fill="url(#tdb)"/>
<g class="dd">
<g transform="translate(0,464.3)"><circle cx="797.3" class="g"/><circle cx="869.6" class="g"/></g>
<g transform="translate(0,478.2)"><circle cx="797.3" class="g"/></g>
<g transform="translate(0,492.2)"><circle cx="811.8" class="T"/></g>
<g transform="translate(0,506.1)"><circle cx="811.8" class="T"/></g>
<g transform="translate(0,520)"><circle cx="797.3" class="L"/><circle cx="869.6" class="g"/></g>
<g transform="translate(0,534)"><circle cx="696" class="y"/><circle cx="710.5" class="Y"/><circle cx="724.9" class="Y"/></g>
<g transform="translate(0,547.9)"><circle cx="768.4" class="L"/><circle cx="782.8" class="L"/></g>
<g transform="translate(0,561.8)"><circle cx="797.3" class="Y"/></g>
<g transform="translate(0,575.7)"><circle cx="696" class="y"/><circle cx="710.5" class="R"/><circle cx="724.9" class="r"/><circle cx="739.4" class="y"/><circle cx="753.9" class="r"/></g>
<g transform="translate(0,589.7)"><circle cx="696" class="r"/><circle cx="710.5" class="y"/><circle cx="724.9" class="O"/><circle cx="739.4" class="y"/><circle cx="753.9" class="O"/><circle cx="768.4" class="Y"/><circle cx="782.8" class="r"/><circle cx="797.3" class="D"/><circle cx="811.8" class="R"/><circle cx="826.2" class="y"/><circle cx="840.7" class="O"/><circle cx="855.2" class="y"/><circle cx="869.6" class="O"/></g>
<g transform="translate(0,603.6)"><circle cx="768.4" class="T"/></g>
<g transform="translate(0,617.5)"><circle cx="768.4" class="P"/></g>
<g transform="translate(0,631.5)"><circle cx="753.9" class="b"/><circle cx="768.4" class="b"/><circle cx="782.8" class="G"/></g>
<g transform="translate(0,645.4)"><circle cx="768.4" class="B"/></g>
<g transform="translate(0,659.3)"><circle cx="826.2" class="T"/></g>
<g transform="translate(0,673.3)"><circle cx="855.2" class="g"/></g>
<g transform="translate(0,687.2)"><circle cx="855.2" class="g"/></g>
<g transform="translate(0,701.1)"><circle cx="696" class="G"/><circle cx="710.5" class="B"/></g>
<g transform="translate(0,715)"><circle cx="768.4" class="T"/></g>
<g transform="translate(0,729)"><circle cx="696" class="T"/><circle cx="710.5" class="T"/><circle cx="724.9" class="G"/><circle cx="739.4" class="T"/><circle cx="753.9" class="b"/></g>
<g transform="translate(0,742.9)"><circle cx="797.3" class="T"/></g>
<g transform="translate(0,756.8)"><circle cx="797.3" class="g"/><circle cx="869.6" class="T"/></g>
<g transform="translate(0,770.8)"><circle cx="797.3" class="g"/></g>
<g transform="translate(0,784.7)"><circle cx="696" class="L"/><circle cx="768.4" class="L"/><circle cx="782.8" class="O"/><circle cx="797.3" class="o"/><circle cx="840.7" class="Y"/><circle cx="855.2" class="Y"/><circle cx="869.6" class="o"/></g>
<g transform="translate(0,798.6)"><circle cx="696" class="Y"/></g>
<g transform="translate(0,812.5)"><circle cx="696" class="y"/><circle cx="768.4" class="Y"/><circle cx="811.8" class="g"/></g>
<g transform="translate(0,826.5)"><circle cx="739.4" class="O"/><circle cx="811.8" class="Y"/></g>
<g transform="translate(0,840.4)"><circle cx="797.3" class="T"/><circle cx="869.6" class="B"/></g>
<g transform="translate(0,854.3)"><circle cx="797.3" class="T"/></g>
<g transform="translate(0,868.3)"><circle cx="696" class="T"/><circle cx="768.4" class="T"/><circle cx="782.8" class="g"/><circle cx="797.3" class="g"/><circle cx="840.7" class="G"/><circle cx="855.2" class="g"/><circle cx="869.6" class="g"/></g>
<g transform="translate(0,882.2)"><circle cx="696" class="G"/></g>
<g transform="translate(0,896.1)"><circle cx="696" class="g"/><circle cx="710.5" class="g"/><circle cx="739.4" class="g"/><circle cx="782.8" class="G"/></g>
<g transform="translate(0,910.1)"><circle cx="797.3" class="b"/><circle cx="869.6" class="B"/></g>
<g transform="translate(0,924)"><circle cx="797.3" class="b"/></g>
<g transform="translate(0,937.9)"><circle cx="696" class="T"/></g>
<g transform="translate(0,951.8)"><circle cx="696" class="G"/><circle cx="710.5" class="G"/><circle cx="739.4" class="G"/><circle cx="782.8" class="T"/></g>
<g transform="translate(0,965.8)"><circle cx="797.3" class="g"/><circle cx="869.6" class="T"/></g>
<g transform="translate(0,979.7)"><circle cx="797.3" class="g"/></g>
<g transform="translate(0,993.6)"><circle cx="696" class="L s"/><circle cx="782.8" class="O"/><circle cx="797.3" class="O"/><circle cx="840.7" class="Y"/><circle cx="855.2" class="Y"/><circle cx="869.6" class="O"/></g>
<g transform="translate(0,1007.6)"><circle cx="696" class="Y"/></g>
<g transform="translate(0,1021.5)"><circle cx="696" class="Y"/><circle cx="710.5" class="y"/><circle cx="739.4" class="y"/><circle cx="782.8" class="Y"/></g>
<g transform="translate(0,1035.4)"><circle cx="797.3" class="L"/><circle cx="869.6" class="G"/></g>
<g transform="translate(0,1049.4)"><circle cx="797.3" class="L"/></g>
<g transform="translate(0,1063.3)"><circle cx="696" class="Y"/><circle cx="768.4" class="Y"/><circle cx="782.8" class="R"/><circle cx="797.3" class="r"/><circle cx="840.7" class="O"/><circle cx="855.2" class="y"/><circle cx="869.6" class="r"/></g>
<g transform="translate(0,1077.2)"><circle cx="696" class="O"/></g>
<g transform="translate(0,1091.1)"><circle cx="696" class="o"/><circle cx="710.5" class="R"/><circle cx="739.4" class="R"/><circle cx="782.8" class="O"/></g>
<g transform="translate(0,1105.1)"><circle cx="797.3" class="g"/><circle cx="869.6" class="G"/></g>
<g transform="translate(0,1119)"><circle cx="797.3" class="g"/></g>
<g transform="translate(0,1132.9)"><circle cx="696" class="L"/><circle cx="768.4" class="L"/><circle cx="782.8" class="O"/><circle cx="797.3" class="o"/><circle cx="840.7" class="Y"/><circle cx="855.2" class="Y"/><circle cx="869.6" class="o"/></g>
<g transform="translate(0,1146.9)"><circle cx="696" class="Y"/></g>
<g transform="translate(0,1160.8)"><circle cx="696" class="y"/><circle cx="710.5" class="O"/><circle cx="739.4" class="O"/><circle cx="782.8" class="y"/></g>
<g transform="translate(0,1174.7)"><circle cx="797.3" class="g"/><circle cx="869.6" class="G"/></g>
<g transform="translate(0,1188.7)"><circle cx="797.3" class="g"/></g>
<g transform="translate(0,1202.6)"><circle cx="696" class="L"/><circle cx="768.4" class="L"/><circle cx="782.8" class="O"/><circle cx="797.3" class="o"/><circle cx="840.7" class="Y"/><circle cx="855.2" class="Y"/><circle cx="869.6" class="o"/></g>
<g transform="translate(0,1216.5)"><circle cx="696" class="Y"/></g>
<g transform="translate(0,1230.4)"><circle cx="696" class="y"/><circle cx="710.5" class="O"/><circle cx="739.4" class="O"/><circle cx="782.8" class="y"/></g>
<g transform="translate(0,1244.4)"><circle cx="797.3" class="L"/><circle cx="869.6" class="G"/></g>
<g transform="translate(0,1258.3)"><circle cx="797.3" class="L"/></g>
<g transform="translate(0,1272.2)"><circle cx="696" class="y"/><circle cx="768.4" class="Y"/><circle cx="782.8" class="R"/><circle cx="797.3" class="r"/><circle cx="840.7" class="O"/><circle cx="855.2" class="O"/><circle cx="869.6" class="D"/></g>
<g transform="translate(0,1286.2)"><circle cx="696" class="O"/></g>
<g transform="translate(0,1300.1)"><circle cx="696" class="o"/><circle cx="710.5" class="R"/><circle cx="739.4" class="R"/><circle cx="782.8" class="o"/></g>
<g transform="translate(0,1314)"><circle cx="797.3" class="Y"/><circle cx="869.6" class="G"/></g>
<g transform="translate(0,1328)"><circle cx="797.3" class="Y"/></g>
<g transform="translate(0,1341.9)"><circle cx="696" class="y"/><circle cx="768.4" class="Y"/><circle cx="782.8" class="r"/><circle cx="797.3" class="D"/><circle cx="840.7" class="O"/><circle cx="855.2" class="O"/><circle cx="869.6" class="D"/></g>
<g transform="translate(0,1355.8)"><circle cx="696" class="O"/></g>
<g transform="translate(0,1369.7)"><circle cx="696" class="o"/><circle cx="710.5" class="r"/><circle cx="739.4" class="r"/><circle cx="782.8" class="o"/></g>
<g transform="translate(0,1383.7)"><circle cx="710.5" class="T"/><circle cx="724.9" class="T"/></g>
<g transform="translate(0,1397.6)"><circle cx="696" class="L"/><circle cx="710.5" class="g"/><circle cx="724.9" class="G"/><circle cx="739.4" class="G"/><circle cx="753.9" class="G"/></g>
<g transform="translate(0,1411.5)"><circle cx="696" class="G"/><circle cx="739.4" class="L"/><circle cx="811.8" class="Y"/><circle cx="855.2" class="O"/></g>
<g transform="translate(0,1425.5)"><circle cx="696" class="b"/><circle cx="710.5" class="b"/><circle cx="724.9" class="T"/><circle cx="739.4" class="b"/><circle cx="753.9" class="B"/></g>
</g>
<rect class="box" x="688.77" y="457.34" width="188.11" height="975.1" stroke-width="2"/>
<g class="ld">
<text x="681" y="468.5">TNC − SDC4</text><text x="681" y="482.4">TNC − SDC1</text><text x="681" y="496.4">SEMA3C − PLXND1</text><text x="681" y="510.3">SEMA3C − (NRP1+NRP2)</text><text x="681" y="524.2">PTN − SDC4</text><text x="681" y="538.2">PTN − SDC3</text><text x="681" y="552.1">PTN − SDC2</text><text x="681" y="566">PTN − SDC1</text><text x="681" y="579.9">PTN − PTPRZ1</text><text x="681" y="593.9">PTN − NCL</text>
<text x="681" y="607.8">POSTN − (ITGAV+ITGB5)</text><text x="681" y="621.7">PDGFC − PDGFRA</text><text x="681" y="635.7">PDGFA − PDGFRB</text><text x="681" y="649.6">PDGFA − PDGFRA</text><text x="681" y="663.5">MIF − ACKR3</text><text x="681" y="677.5">MIF − (CD74+CXCR4)</text><text x="681" y="691.4">MIF − (CD74+CD44)</text><text x="681" y="705.3">L1CAM − L1CAM</text><text x="681" y="719.2">IBSP − (ITGAV+ITGB5)</text><text x="681" y="733.2">HSPG2 − DAG1</text>
<text x="681" y="747.1">HBEGF − EGFR</text><text x="681" y="761">FN1 − SDC4</text><text x="681" y="775">FN1 − SDC1</text><text x="681" y="788.9">FN1 − CD44</text><text x="681" y="802.8">FN1 − (ITGAV+ITGB8)</text><text x="681" y="816.7">FN1 − (ITGAV+ITGB1)</text><text x="681" y="830.7">FN1 − (ITGA5+ITGB1)</text><text x="681" y="844.6">COL9A3 − SDC4</text><text x="681" y="858.5">COL9A3 − SDC1</text><text x="681" y="872.5">COL9A3 − CD44</text>
<text x="681" y="886.4">COL9A3 − (ITGAV+ITGB8)</text><text x="681" y="900.3">COL9A3 − (ITGA1+ITGB1)</text><text x="681" y="914.3">COL6A3 − SDC4</text><text x="681" y="928.2">COL6A3 − SDC1</text><text x="681" y="942.1">COL6A3 − (ITGAV+ITGB8)</text><text x="681" y="956">COL6A3 − (ITGA1+ITGB1)</text><text x="681" y="970">COL6A2 − SDC4</text><text x="681" y="983.9">COL6A2 − SDC1</text><text x="681" y="997.8">COL6A2 − CD44</text><text x="681" y="1011.8">COL6A2 − (ITGAV+ITGB8)</text>
<text x="681" y="1025.7">COL6A2 − (ITGA1+ITGB1)</text><text x="681" y="1039.6">COL6A1 − SDC4</text><text x="681" y="1053.6">COL6A1 − SDC1</text><text x="681" y="1067.5">COL6A1 − CD44</text><text x="681" y="1081.4">COL6A1 − (ITGAV+ITGB8)</text><text x="681" y="1095.3">COL6A1 − (ITGA1+ITGB1)</text><text x="681" y="1109.3">COL4A2 − SDC4</text><text x="681" y="1123.2">COL4A2 − SDC1</text><text x="681" y="1137.1">COL4A2 − CD44</text><text x="681" y="1151.1">COL4A2 − (ITGAV+ITGB8)</text>
<text x="681" y="1165">COL4A2 − (ITGA1+ITGB1)</text><text x="681" y="1178.9">COL4A1 − SDC4</text><text x="681" y="1192.9">COL4A1 − SDC1</text><text x="681" y="1206.8">COL4A1 − CD44</text><text x="681" y="1220.7">COL4A1 − (ITGAV+ITGB8)</text><text x="681" y="1234.6">COL4A1 − (ITGA1+ITGB1)</text><text x="681" y="1248.6">COL1A2 − SDC4</text><text x="681" y="1262.5">COL1A2 − SDC1</text><text x="681" y="1276.4">COL1A2 − CD44</text><text x="681" y="1290.4">COL1A2 − (ITGAV+ITGB8)</text>
<text x="681" y="1304.3">COL1A2 − (ITGA1+ITGB1)</text><text x="681" y="1318.2">COL1A1 − SDC4</text><text x="681" y="1332.2">COL1A1 − SDC1</text><text x="681" y="1346.1">COL1A1 − CD44</text><text x="681" y="1360">COL1A1 − (ITGAV+ITGB8)</text><text x="681" y="1373.9">COL1A1 − (ITGA1+ITGB1)</text><text x="681" y="1387.9">CDH2 − CDH2</text><text x="681" y="1401.8">CADM1 − CADM1</text><text x="681" y="1415.7">APP − CD74</text><text x="681" y="1429.7">AGRN − DAG1</text>
</g>
<g class="ld" font-size="11.7">
<text transform="translate(700.2,1443) rotate(-90)">SC−Keloid −&gt; SC−Myel+Nonmyel</text>
<text transform="translate(714.7,1443) rotate(-90)">SC−Keloid −&gt; SC−Keloid</text>
<text transform="translate(729.1,1443) rotate(-90)">SC−Keloid −&gt; SC−Prolif</text>
<text transform="translate(743.6,1443) rotate(-90)">SC−Keloid −&gt; SC−EC</text>
<text transform="translate(758.1,1443) rotate(-90)">SC−Keloid −&gt; SC−FB</text>
<text transform="translate(772.6,1443) rotate(-90)">SC−Keloid −&gt; FB</text>
<text transform="translate(787,1443) rotate(-90)">SC−Keloid −&gt; SMC/PC</text>
<text transform="translate(801.5,1443) rotate(-90)">SC−Keloid −&gt; KC</text>
<text transform="translate(816,1443) rotate(-90)">SC−Keloid −&gt; EC</text>
<text transform="translate(830.4,1443) rotate(-90)">SC−Keloid −&gt; LEC</text>
<text transform="translate(844.9,1443) rotate(-90)">SC−Keloid −&gt; TC</text>
<text transform="translate(859.4,1443) rotate(-90)">SC−Keloid −&gt; MAC/DC</text>
<text transform="translate(873.8,1443) rotate(-90)">SC−Keloid −&gt; SGC</text>
</g>
<g id="d-legend">
<text x="905" y="832" font-size="11">p−value</text>
<circle cx="918.5" cy="853" r="2.5" fill="#000"/><text x="936" y="856" font-size="8.5">0.01 &lt; p &lt; 0.05</text>
<circle cx="918.5" cy="879" r="5" fill="#000"/><text x="936" y="882" font-size="8.5">p &lt; 0.01</text>
<text x="905" y="935" font-size="11">Commun. Prob.</text>
<rect x="906" y="940" width="9.5" height="130" fill="url(#spec)"/>
<text x="921" y="946" font-size="8">max</text><text x="921" y="1074" font-size="8">min</text>
</g>
</g>

<!-- Panel (e) -->
<g id="panel-e">
<rect x="1223.2" y="459.49" width="65" height="509.52" fill="url(#ge)"/>
<rect x="1218.5" y="459.49" width="4.7" height="509.52" fill="url(#tel)"/>
<rect x="1223.2" y="969" width="65" height="4" fill="url(#teb)"/>
<g class="de">
<g transform="translate(0,470.1)"><circle cx="1229.7" class="b"/><circle cx="1242.7" class="B"/><circle cx="1255.7" class="B"/></g>
<g transform="translate(0,491.3)"><circle cx="1229.7" class="T"/><circle cx="1242.7" class="g"/><circle cx="1255.7" class="L"/><circle cx="1268.7" class="T"/><circle cx="1281.7" class="L"/></g>
<g transform="translate(0,512.6)"><circle cx="1229.7" class="L"/><circle cx="1242.7" class="T"/><circle cx="1255.7" class="T"/><circle cx="1268.7" class="T"/><circle cx="1281.7" class="T"/></g>
<g transform="translate(0,533.8)"><circle cx="1229.7" class="T"/><circle cx="1242.7" class="g"/><circle cx="1255.7" class="L"/><circle cx="1268.7" class="T"/><circle cx="1281.7" class="L"/></g>
<g transform="translate(0,555)"><circle cx="1229.7" class="L"/><circle cx="1242.7" class="T"/><circle cx="1255.7" class="T"/><circle cx="1268.7" class="T"/><circle cx="1281.7" class="T"/></g>
<g transform="translate(0,576.3)"><circle cx="1229.7" class="B"/><circle cx="1281.7" class="b"/></g>
<g transform="translate(0,597.5)"><circle cx="1229.7" class="g"/><circle cx="1242.7" class="L"/><circle cx="1255.7" class="O"/><circle cx="1268.7" class="L"/><circle cx="1281.7" class="g"/></g>
<g transform="translate(0,618.7)"><circle cx="1229.7" class="G"/></g>
<g transform="translate(0,639.9)"><circle cx="1229.7" class="g"/></g>
<g transform="translate(0,661.2)"><circle cx="1229.7" class="Y"/><circle cx="1242.7" class="y"/><circle cx="1268.7" class="y"/></g>
<g transform="translate(0,682.4)"><circle cx="1229.7" class="g"/></g>
<g transform="translate(0,703.6)"><circle cx="1229.7" class="L"/></g>
<g transform="translate(0,724.9)"><circle cx="1229.7" class="Y"/><circle cx="1242.7" class="y"/><circle cx="1268.7" class="y"/></g>
<g transform="translate(0,746.1)"><circle cx="1229.7" class="g"/></g>
<g transform="translate(0,767.3)"><circle cx="1229.7" class="L"/></g>
<g transform="translate(0,788.6)"><circle cx="1229.7" class="y"/><circle cx="1242.7" class="O"/><circle cx="1268.7" class="O"/></g>
<g transform="translate(0,809.8)"><circle cx="1229.7" class="Y"/></g>
<g transform="translate(0,831)"><circle cx="1229.7" class="O"/></g>
<g transform="translate(0,852.2)"><circle cx="1229.7" class="o"/><circle cx="1242.7" class="r"/><circle cx="1268.7" class="D"/></g>
<g transform="translate(0,873.5)"><circle cx="1229.7" class="Y"/></g>
<g transform="translate(0,894.7)"><circle cx="1229.7" class="O"/></g>
<g transform="translate(0,915.9)"><circle cx="1229.7" class="R"/><circle cx="1242.7" class="D"/><circle cx="1268.7" class="D"/></g>
<g transform="translate(0,937.2)"><circle cx="1268.7" class="P"/></g>
<g transform="translate(0,958.4)"><circle cx="1229.7" class="P"/><circle cx="1242.7" class="B"/><circle cx="1268.7" class="B"/></g>
</g>
<rect class="box" x="1223.2" y="459.49" width="65" height="509.52" stroke-width="2"/>
<g class="le">
<text x="1214" y="474.6">PTN − SDC3</text><text x="1214" y="495.8">PTN − PTPRZ1</text><text x="1214" y="517.1">PTN − NCL</text><text x="1214" y="538.3">MDK − PTPRZ1</text><text x="1214" y="559.5">MDK − NCL</text><text x="1214" y="580.8">MDK − LRP1</text><text x="1214" y="602">MDK − (ITGA6+ITGB1)</text><text x="1214" y="623.2">COL6A3 − CD44</text>
<text x="1214" y="644.4">COL6A3 − (ITGAV+ITGB8)</text><text x="1214" y="665.7">COL6A3 − (ITGA1+ITGB1)</text><text x="1214" y="686.9">COL6A2 − CD44</text><text x="1214" y="708.1">COL6A2 − (ITGAV+ITGB8)</text><text x="1214" y="729.4">COL6A2 − (ITGA1+ITGB1)</text><text x="1214" y="750.6">COL6A1 − CD44</text><text x="1214" y="771.8">COL6A1 − (ITGAV+ITGB8)</text><text x="1214" y="793.1">COL6A1 − (ITGA1+ITGB1)</text>
<text x="1214" y="814.3">COL1A2 − CD44</text><text x="1214" y="835.5">COL1A2 − (ITGAV+ITGB8)</text><text x="1214" y="856.7">COL1A2 − (ITGA1+ITGB1)</text><text x="1214" y="878">COL1A1 − CD44</text><text x="1214" y="899.2">COL1A1 − (ITGAV+ITGB8)</text><text x="1214" y="920.4">COL1A1 − (ITGA1+ITGB1)</text><text x="1214" y="941.7">ANGPTL2 − (ITGA5+ITGB1)</text><text x="1214" y="962.9">ANGPTL1 − (ITGA1+ITGB1)</text>
<text transform="translate(1234.2,976) rotate(-90)">FB −&gt; SC−Myel+Nonmyel</text>
<text transform="translate(1247.2,976) rotate(-90)">FB −&gt; SC−Keloid</text>
<text transform="translate(1260.2,976) rotate(-90)">FB −&gt; SC−Prolif</text>
<text transform="translate(1273.2,976) rotate(-90)">FB −&gt; SC−EC</text>
<text transform="translate(1286.2,976) rotate(-90)">FB −&gt; SC−FB</text>
</g>
<g id="e-legend">
<text x="1315" y="607" font-size="12.5">Commun. Prob.</text>
<rect x="1315" y="614.5" width="11.7" height="136.5" fill="url(#spec)"/>
<text x="1333" y="619" font-size="8.5">max</text><text x="1333" y="755" font-size="8.5">min</text>
<text x="1315" y="798" font-size="12.5">p−value</text>
<circle cx="1329" cy="818.7" r="5.5" fill="#000"/><text x="1348" y="821.7" font-size="8.5">p &lt; 0.01</text>
</g>
</g>

<!-- Panel (f) -->
<g id="panel-f">
<rect x="1222.2" y="1198.99" width="71" height="239.82" fill="url(#gf)"/>
<rect x="1217.5" y="1198.99" width="4.7" height="239.82" fill="url(#tfl)"/>
<rect x="1222.2" y="1438.8" width="71" height="4" fill="url(#tfb)"/>
<g class="df">
<g transform="translate(0,1204.7)"><circle cx="1229.3" class="P"/></g>
<g transform="translate(0,1216.1)"><circle cx="1229.3" class="b"/></g>
<g transform="translate(0,1227.5)"><circle cx="1229.3" class="G"/><circle cx="1243.5" class="L"/><circle cx="1271.9" class="L"/></g>
<g transform="translate(0,1239)"><circle cx="1229.3" class="b"/></g>
<g transform="translate(0,1250.4)"><circle cx="1229.3" class="G"/></g>
<g transform="translate(0,1261.8)"><circle cx="1229.3" class="L"/><circle cx="1243.5" class="y"/><circle cx="1271.9" class="O"/></g>
<g transform="translate(0,1273.2)"><circle cx="1229.3" class="T"/></g>
<g transform="translate(0,1284.6)"><circle cx="1229.3" class="g"/></g>
<g transform="translate(0,1296.1)"><circle cx="1229.3" class="Y"/><circle cx="1243.5" class="o"/><circle cx="1271.9" class="o"/></g>
<g transform="translate(0,1307.5)"><circle cx="1229.3" class="B"/></g>
<g transform="translate(0,1318.9)"><circle cx="1229.3" class="G"/></g>
<g transform="translate(0,1330.3)"><circle cx="1229.3" class="L"/><circle cx="1243.5" class="Y"/><circle cx="1271.9" class="y"/></g>
<g transform="translate(0,1341.7)"><circle cx="1229.3" class="B"/></g>
<g transform="translate(0,1353.2)"><circle cx="1229.3" class="G"/></g>
<g transform="translate(0,1364.6)"><circle cx="1229.3" class="L"/><circle cx="1243.5" class="y"/><circle cx="1271.9" class="y"/></g>
<g transform="translate(0,1376)"><circle cx="1229.3" class="g"/></g>
<g transform="translate(0,1387.4)"><circle cx="1229.3" class="Y"/></g>
<g transform="translate(0,1398.8)"><circle cx="1229.3" class="o"/><circle cx="1243.5" class="r"/><circle cx="1271.9" class="D"/></g>
<g transform="translate(0,1410.3)"><circle cx="1229.3" class="g"/></g>
<g transform="translate(0,1421.7)"><circle cx="1229.3" class="Y"/></g>
<g transform="translate(0,1433.1)"><circle cx="1229.3" class="o"/><circle cx="1243.5" class="D"/><circle cx="1271.9" class="D"/></g>
</g>
<rect class="box" x="1222.2" y="1198.99" width="71" height="239.82" stroke-width="2"/>
<g class="lf">
<text x="1214" y="1209">COL6A3 − CD44</text><text x="1214" y="1220.4">COL6A3 − (ITGAV+ITGB8)</text><text x="1214" y="1231.8">COL6A3 − (ITGA1+ITGB1)</text><text x="1214" y="1243.3">COL6A2 − CD44</text><text x="1214" y="1254.7">COL6A2 − (ITGAV+ITGB8)</text><text x="1214" y="1266.1">COL6A2 − (ITGA1+ITGB1)</text><text x="1214" y="1277.5">COL6A1 − CD44</text>
<text x="1214" y="1288.9">COL6A1 − (ITGAV+ITGB8)</text><text x="1214" y="1300.4">COL6A1 − (ITGA1+ITGB1)</text><text x="1214" y="1311.8">COL4A2 − CD44</text><text x="1214" y="1323.2">COL4A2 − (ITGAV+ITGB8)</text><text x="1214" y="1334.6">COL4A2 − (ITGA1+ITGB1)</text><text x="1214" y="1346">COL4A1 − CD44</text><text x="1214" y="1357.5">COL4A1 − (ITGAV+ITGB8)</text>
<text x="1214" y="1368.9">COL4A1 − (ITGA1+ITGB1)</text><text x="1214" y="1380.3">COL1A2 − CD44</text><text x="1214" y="1391.7">COL1A2 − (ITGAV+ITGB8)</text><text x="1214" y="1403.1">COL1A2 − (ITGA1+ITGB1)</text><text x="1214" y="1414.6">COL1A1 − CD44</text><text x="1214" y="1426">COL1A1 − (ITGAV+ITGB8)</text><text x="1214" y="1437.4">COL1A1 − (ITGA1+ITGB1)</text>
</g>
<g class="lfx">
<text transform="translate(1233.4,1447) rotate(-90)">SMC/PC −&gt; SC−Myel+Nonmyel</text>
<text transform="translate(1247.6,1447) rotate(-90)">SMC/PC −&gt; SC−Keloid</text>
<text transform="translate(1261.8,1447) rotate(-90)">SMC/PC −&gt; SC−Prolif</text>
<text transform="translate(1276,1447) rotate(-90)">SMC/PC −&gt; SC−EC</text>
<text transform="translate(1290.2,1447) rotate(-90)">SMC/PC −&gt; SC−FB</text>
</g>
<g id="f-legend">
<text x="1319" y="1228" font-size="12">p−value</text>
<circle cx="1332.3" cy="1248.3" r="1.8" fill="#000"/><text x="1351.7" y="1251.3" font-size="8.5">p &gt; 0.05</text>
<circle cx="1332.3" cy="1275" r="5.3" fill="#000"/><text x="1351.7" y="1278" font-size="8.5">p &lt; 0.01</text>
<text x="1319" y="1331" font-size="12">Commun. Prob.</text>
<rect x="1319" y="1338" width="11.7" height="132" fill="url(#spec)"/>
<text x="1336.7" y="1342" font-size="8.5">max</text><text x="1336.7" y="1473" font-size="8.5">min</text>
</g>
</g>
</svg>
